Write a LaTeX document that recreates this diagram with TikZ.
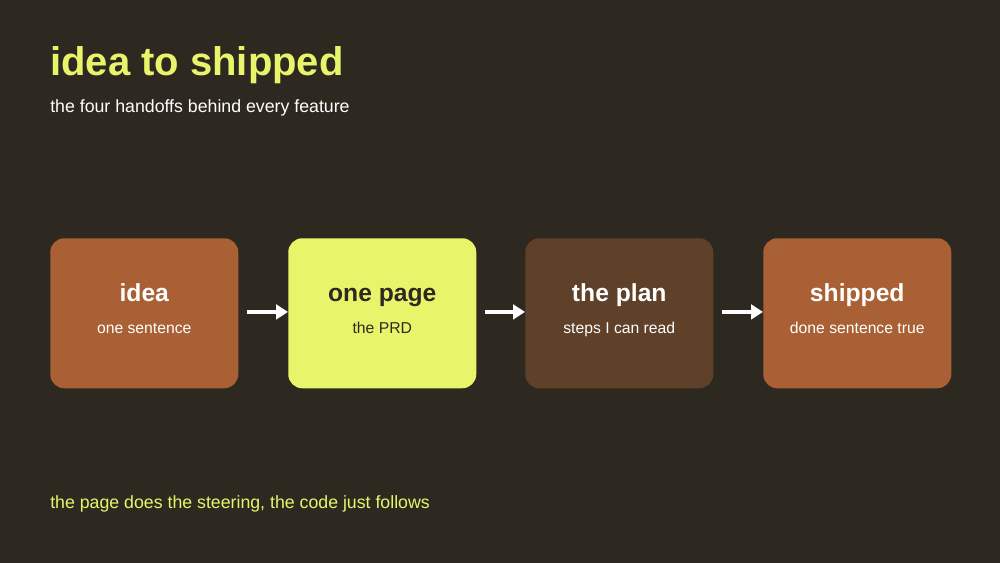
\documentclass[tikz,border=0pt]{standalone}
\usepackage{fontspec}
\setmainfont{Liberation Sans}
\usetikzlibrary{positioning,arrows.meta}
\definecolor{bgdark}{HTML}{2E2920}
\definecolor{rust}{HTML}{A86034}
\definecolor{lime}{HTML}{E8F56A}
\definecolor{cocoa}{HTML}{5F4028}
\definecolor{ink}{HTML}{2E2920}

\begin{document}
\begin{tikzpicture}[x=0.75pt,y=-0.75pt,
    stage/.style={draw=none, rectangle, rounded corners=10.5pt, minimum width=141pt, minimum height=112.5pt, inner sep=0pt, anchor=north west},
    head/.style={anchor=base, inner sep=0pt, font=\fontsize{18.5}{20}\selectfont\bfseries},
    sub/.style={anchor=base, inner sep=0pt, font=\fontsize{11.8}{13}\selectfont},
    handoff/.style={-{Triangle[length=9pt,width=11pt]}, line width=3pt, white}]
    \fill[bgdark] (0,0) rectangle (1000,563);
    \useasboundingbox (0,0) rectangle (1000,563);

    % Title
    \node[anchor=base west, inner sep=0pt, text=lime, font=\fontsize{30}{32}\selectfont\bfseries] (title) at (50,76) {idea to shipped};
    \node[anchor=base west, inner sep=0pt, text=white, font=\fontsize{13.3}{15}\selectfont] (subtitle) at (50,113) {the four handoffs behind every feature};

    % Stages
    \node[stage, fill=rust] (idea) at (50,238) {};
    \node[stage, fill=lime] (page) at (288,238) {};
    \node[stage, fill=cocoa] (plan) at (525,238) {};
    \node[stage, fill=rust] (ship) at (763,238) {};

    \node[head, text=white] (idea-head) at ([yshift=9pt]idea.center) {idea};
    \node[sub, text=white] (idea-sub) at ([yshift=-15pt]idea.center) {one sentence};
    \node[head, text=ink] (page-head) at ([yshift=9pt]page.center) {one page};
    \node[sub, text=ink] (page-sub) at ([yshift=-15pt]page.center) {the PRD};
    \node[head, text=white] (plan-head) at ([yshift=9pt]plan.center) {the plan};
    \node[sub, text=white] (plan-sub) at ([yshift=-15pt]plan.center) {steps I can read};
    \node[head, text=white] (ship-head) at ([yshift=9pt]ship.center) {shipped};
    \node[sub, text=white] (ship-sub) at ([yshift=-15pt]ship.center) {done sentence true};

    % Handoffs
    \draw[handoff] ([xshift=6pt,yshift=1pt]idea.east) -- ([yshift=1pt]page.west);
    \draw[handoff] ([xshift=6pt,yshift=1pt]page.east) -- ([yshift=1pt]plan.west);
    \draw[handoff] ([xshift=6pt,yshift=1pt]plan.east) -- ([yshift=1pt]ship.west);

    % Footer
    \node[anchor=base west, inner sep=0pt, text=lime, font=\fontsize{13.3}{15}\selectfont] (footer) at (50,508) {the page does the steering, the code just follows};
\end{tikzpicture}
\end{document}
